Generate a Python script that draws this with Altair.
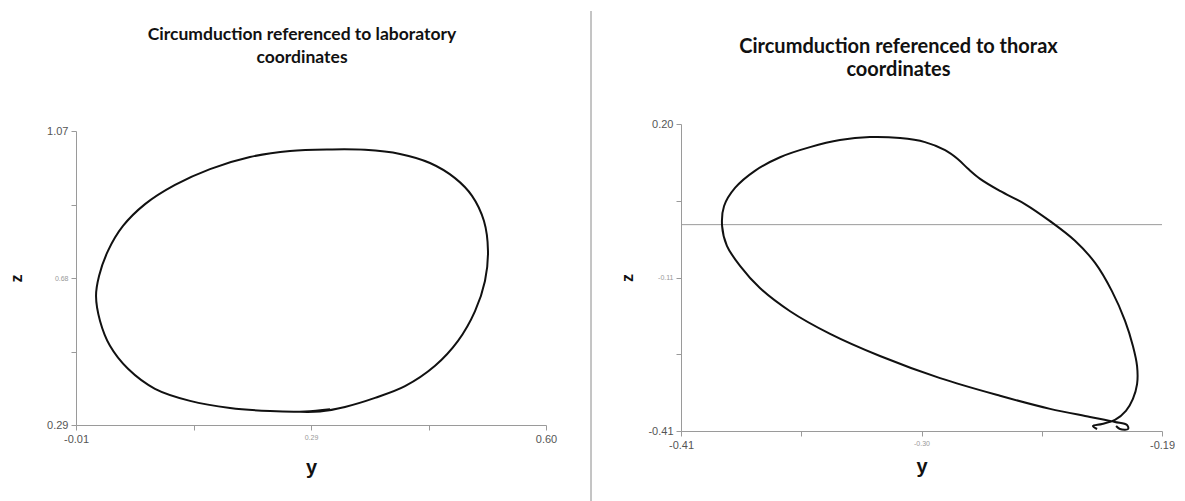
import altair as alt
import pandas as pd

# Circumduction path in laboratory coordinates (metres)
lab_y = [0.2807, 0.3067, 0.3391, 0.3781, 0.4170, 0.4560, 0.4858, 0.5079, 0.5208,
         0.5247, 0.5195, 0.5040, 0.4819, 0.4494, 0.4105, 0.3651, 0.3197, 0.2678,
         0.2158, 0.1639, 0.1185, 0.0796, 0.0510, 0.0315, 0.0199, 0.0160, 0.0212,
         0.0341, 0.0575, 0.0925, 0.1380, 0.1899, 0.2418, 0.2872, 0.3197]
lab_z = [0.325, 0.326, 0.338, 0.362, 0.393, 0.447, 0.513, 0.592, 0.672,
         0.752, 0.831, 0.898, 0.945, 0.985, 1.009, 1.020, 1.021, 1.017,
         1.001, 0.969, 0.927, 0.876, 0.818, 0.752, 0.685, 0.632, 0.566,
         0.500, 0.439, 0.386, 0.354, 0.335, 0.327, 0.326, 0.332]

# Circumduction path in thorax coordinates
tho_y = [-0.2197, -0.2216, -0.2174, -0.2115, -0.2065, -0.2033, -0.2014, -0.2014,
         -0.2033, -0.2069, -0.2129, -0.2206, -0.2298, -0.2412, -0.2527, -0.2641,
         -0.2732, -0.2787, -0.2833, -0.2892, -0.2984, -0.3098, -0.3236, -0.3373,
         -0.3510, -0.3647, -0.3762, -0.3853, -0.3903, -0.3912, -0.3890, -0.3830,
         -0.3739, -0.3601, -0.3418, -0.3190, -0.2915, -0.2641, -0.2412, -0.2229,
         -0.2115, -0.2060, -0.2055, -0.2092, -0.2110]
tho_z = [-0.406, -0.400, -0.396, -0.388, -0.370, -0.346, -0.317, -0.281,
         -0.241, -0.191, -0.132, -0.076, -0.032, 0.007, 0.041, 0.067,
         0.091, 0.111, 0.130, 0.148, 0.164, 0.172, 0.174, 0.168,
         0.154, 0.134, 0.107, 0.073, 0.037, -0.003, -0.042, -0.082,
         -0.126, -0.172, -0.217, -0.261, -0.305, -0.340, -0.366, -0.382,
         -0.392, -0.398, -0.406, -0.406, -0.400]

# Axis ticks and their printed labels
lab_y_ticks = [-0.01, 0.1425, 0.295, 0.4475, 0.60]
lab_y_labels = ["-0.01", "", "0.29", "", "0.60"]
lab_z_ticks = [0.29, 0.485, 0.68, 0.875, 1.07]
lab_z_labels = ["0.29", "", "0.68", "", "1.07"]
tho_y_ticks = [-0.41, -0.355, -0.30, -0.245, -0.19]
tho_y_labels = ["-0.41", "", "-0.30", "", "-0.19"]
tho_z_ticks = [-0.41, -0.2575, -0.105, 0.0475, 0.20]
tho_z_labels = ["-0.41", "", "-0.11", "", "0.20"]

lab = pd.DataFrame({"i": range(len(lab_y)), "y": lab_y, "z": lab_z})
tho = pd.DataFrame({"i": range(len(tho_y)), "y": tho_y, "z": tho_z})

GREY = "#9a9a9a"
LABEL = "#555555"


def label_expr(values, labels):
    expr = "''"
    for v, l in zip(values, labels):
        expr = f"abs(datum.value - ({v})) < 1e-6 ? '{l}' : ({expr})"
    return expr


def mid_test(values):
    mid = values[len(values) // 2]
    return f"abs(datum.value - ({mid})) < 1e-6"


def axis(values, labels, title, title_size, title_pad, extent, **kw):
    test = mid_test(values)
    return alt.Axis(
        values=values,
        labelExpr=label_expr(values, labels),
        title=title,
        grid=False,
        domainColor=GREY,
        tickColor=GREY,
        tickSize=5,
        labelPadding=3,
        labelFont="Liberation Sans",
        labelFontSize={"condition": {"test": test, "value": 7}, "value": 11},
        labelColor={"condition": {"test": test, "value": "#999999"}, "value": LABEL},
        labelOverlap=False,
        labelBound=False,
        labelFlush=False,
        titleFont="Liberation Sans",
        titleFontWeight="bold",
        titleFontSize=title_size,
        titleColor="#111111",
        titlePadding=title_pad,
        minExtent=extent,
        maxExtent=extent,
        **kw,
    )


PANEL_H = 307

# Left panel: laboratory frame
lab_x_scale = alt.Scale(domain=[lab_y_ticks[0], lab_y_ticks[-1]], nice=False, zero=False)
lab_z_scale = alt.Scale(domain=[lab_z_ticks[0], lab_z_ticks[-1]], nice=False, zero=False,
                        range=[PANEL_H - 6, 7])

lab_line = alt.Chart(lab).mark_line(
    color="#111111", strokeWidth=2, interpolate="catmull-rom"
).encode(
    x=alt.X("y:Q", scale=lab_x_scale,
            axis=axis(lab_y_ticks, lab_y_labels, "y", 20, 12, 20, offset=-6)),
    y=alt.Y("z:Q", scale=lab_z_scale,
            axis=axis(lab_z_ticks, lab_z_labels, "z", 16, 17, 35)),
    order="i:Q",
)

# Invisible edge marker that pins the left margin of the page
edge = alt.Chart(pd.DataFrame({"d": [0]})).mark_rule(
    strokeWidth=1, strokeOpacity=0
).encode(x=alt.value(-75.5), y=alt.value(0), y2=alt.value(10))

left = alt.layer(lab_line, edge).properties(
    width=470,
    height=PANEL_H,
    title=alt.TitleParams(
        ["Circumduction referenced to laboratory", "coordinates"],
        font="Lato", fontWeight="bold", fontSize=17.5, color="#111111",
        anchor="middle", dx=-9, offset=58, lineHeight=23,
    ),
)

# Separator between the two panels, in a narrow panel of its own
divider = alt.Chart(pd.DataFrame({"d": [0]})).mark_rule(
    color="#8a8a8a", strokeWidth=1
).encode(x=alt.value(0), y=alt.value(-113), y2=alt.value(378)).properties(
    width=45, height=PANEL_H
)

# Right panel: thorax frame
tho_x_scale = alt.Scale(domain=[tho_y_ticks[0], tho_y_ticks[-1]], nice=False, zero=False)
tho_z_scale = alt.Scale(domain=[tho_z_ticks[0], tho_z_ticks[-1]], nice=False, zero=False)

tho_line = alt.Chart(tho).mark_line(
    color="#111111", strokeWidth=2, interpolate="catmull-rom"
).encode(
    x=alt.X("y:Q", scale=tho_x_scale,
            axis=axis(tho_y_ticks, tho_y_labels, "y", 20, 5, 20)),
    y=alt.Y("z:Q", scale=tho_z_scale,
            axis=axis(tho_z_ticks, tho_z_labels, "z", 16, 11, 35)),
    order="i:Q",
)

zero_rule = alt.Chart(pd.DataFrame({"z": [0.0]})).mark_rule(
    color=GREY, strokeWidth=1
).encode(y=alt.Y("z:Q", scale=tho_z_scale))

right = alt.layer(zero_rule, tho_line).properties(
    width=481,
    height=PANEL_H,
    title=alt.TitleParams(
        ["Circumduction referenced to thorax", "coordinates"],
        font="Lato", fontWeight="bold", fontSize=20, color="#111111",
        anchor="middle", dx=-23, offset=38, lineHeight=23,
    ),
)

chart = alt.hconcat(left, divider, right, spacing=45, bounds="flush").properties(
    padding={"left": 0, "top": 10, "right": 0, "bottom": 0},
    background="white",
).configure_view(stroke=None)

chart.save("out.html", embed_options={"renderer": "svg", "actions": False})
